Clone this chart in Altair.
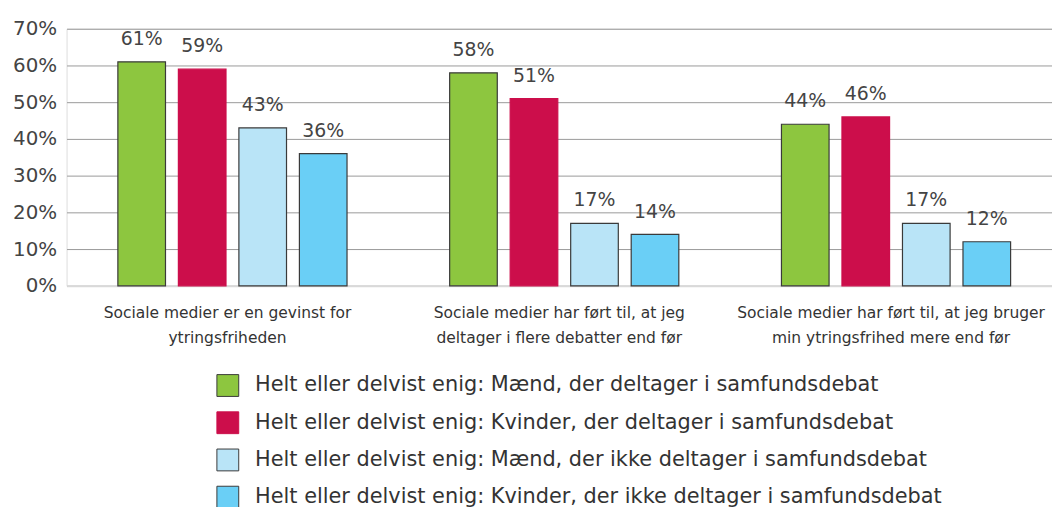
import altair as alt
import pandas as pd

categories = [
    "Sociale medier er en gevinst for|ytringsfriheden",
    "Sociale medier har ført til, at jeg|deltager i flere debatter end før",
    "Sociale medier har ført til, at jeg bruger|min ytringsfrihed mere end før",
]
series = [
    "Helt eller delvist enig: Mænd, der deltager i samfundsdebat",
    "Helt eller delvist enig: Kvinder, der deltager i samfundsdebat",
    "Helt eller delvist enig: Mænd, der ikke deltager i samfundsdebat",
    "Helt eller delvist enig: Kvinder, der ikke deltager i samfundsdebat",
]
values = [
    [0.61, 0.58, 0.44],
    [0.59, 0.51, 0.46],
    [0.43, 0.17, 0.17],
    [0.36, 0.14, 0.12],
]
fills = ["#8DC63F", "#CC0E4B", "#B9E4F7", "#6ACFF6"]
strokes = ["#3a3a3a", "#CC0E4B", "#3a3a3a", "#3a3a3a"]
ticks = [0, 0.1, 0.2, 0.3, 0.4, 0.5, 0.6, 0.7]

rows = []
for si, s in enumerate(series):
    for ci, c in enumerate(categories):
        rows.append({"category": c, "series": s, "value": values[si][ci]})
df = pd.DataFrame(rows)

FONT = "DejaVu Sans"

x = alt.X("category:N", sort=categories, title=None,
          scale=alt.Scale(paddingInner=0, paddingOuter=0),
          axis=alt.Axis(labelExpr="split(datum.label, '|')", labelAngle=0,
                        labelFontSize=15.6, labelColor="#333", labelFont=FONT,
                        labelLineHeight=25, labelPadding=20, ticks=False,
                        labelOffset=-5,
                        domainColor="#d9d9d9", domainWidth=2, labelLimit=400))
xo = alt.XOffset("series:N", sort=series,
                 scale=alt.Scale(paddingInner=0.213, paddingOuter=0.848))
y = alt.Y("value:Q", title=None,
          scale=alt.Scale(domain=[0, 0.7], nice=False),
          axis=alt.Axis(format=".0%", values=ticks, labelOverlap=False,
                        labelFontSize=20, labelColor="#444", labelFont=FONT,
                        labelPadding=10, ticks=False, domain=False,
                        gridColor="#9a9a9a", gridWidth=1))

color = alt.Color("series:N", sort=series, title=None,
                  scale=alt.Scale(domain=series, range=fills),
                  legend=alt.Legend(orient="none", legendX=151, legendY=348,
                                    symbolType="square", symbolSize=484,
                                    symbolStrokeWidth=1, symbolOpacity=1,
                                    labelFontSize=21, labelFont=FONT,
                                    labelColor="#333", labelOffset=16,
                                    rowPadding=10.5, labelLimit=800))
stroke = alt.Stroke("series:N", sort=series, title=None,
                    scale=alt.Scale(domain=series, range=strokes))

bars = alt.Chart(df).mark_bar(strokeWidth=1.2, opacity=1).encode(
    x=x, xOffset=xo, y=y, fill=color, stroke=stroke
)
labels = alt.Chart(df).mark_text(
    baseline="alphabetic", dy=-17, fontSize=19, font=FONT, color="#444"
).encode(
    x=x, xOffset=xo, y=y, text=alt.Text("value:Q", format=".0%")
)

chart = alt.layer(bars, labels).properties(
    width=1003, height=259,
    autosize=alt.AutoSizeParams(type="none"),
    padding={"left": 59, "top": 19, "right": -10, "bottom": 221},
).configure_view(stroke=None).configure(background="white")

chart.save("out.html", embed_options={"renderer": "svg", "actions": False})
